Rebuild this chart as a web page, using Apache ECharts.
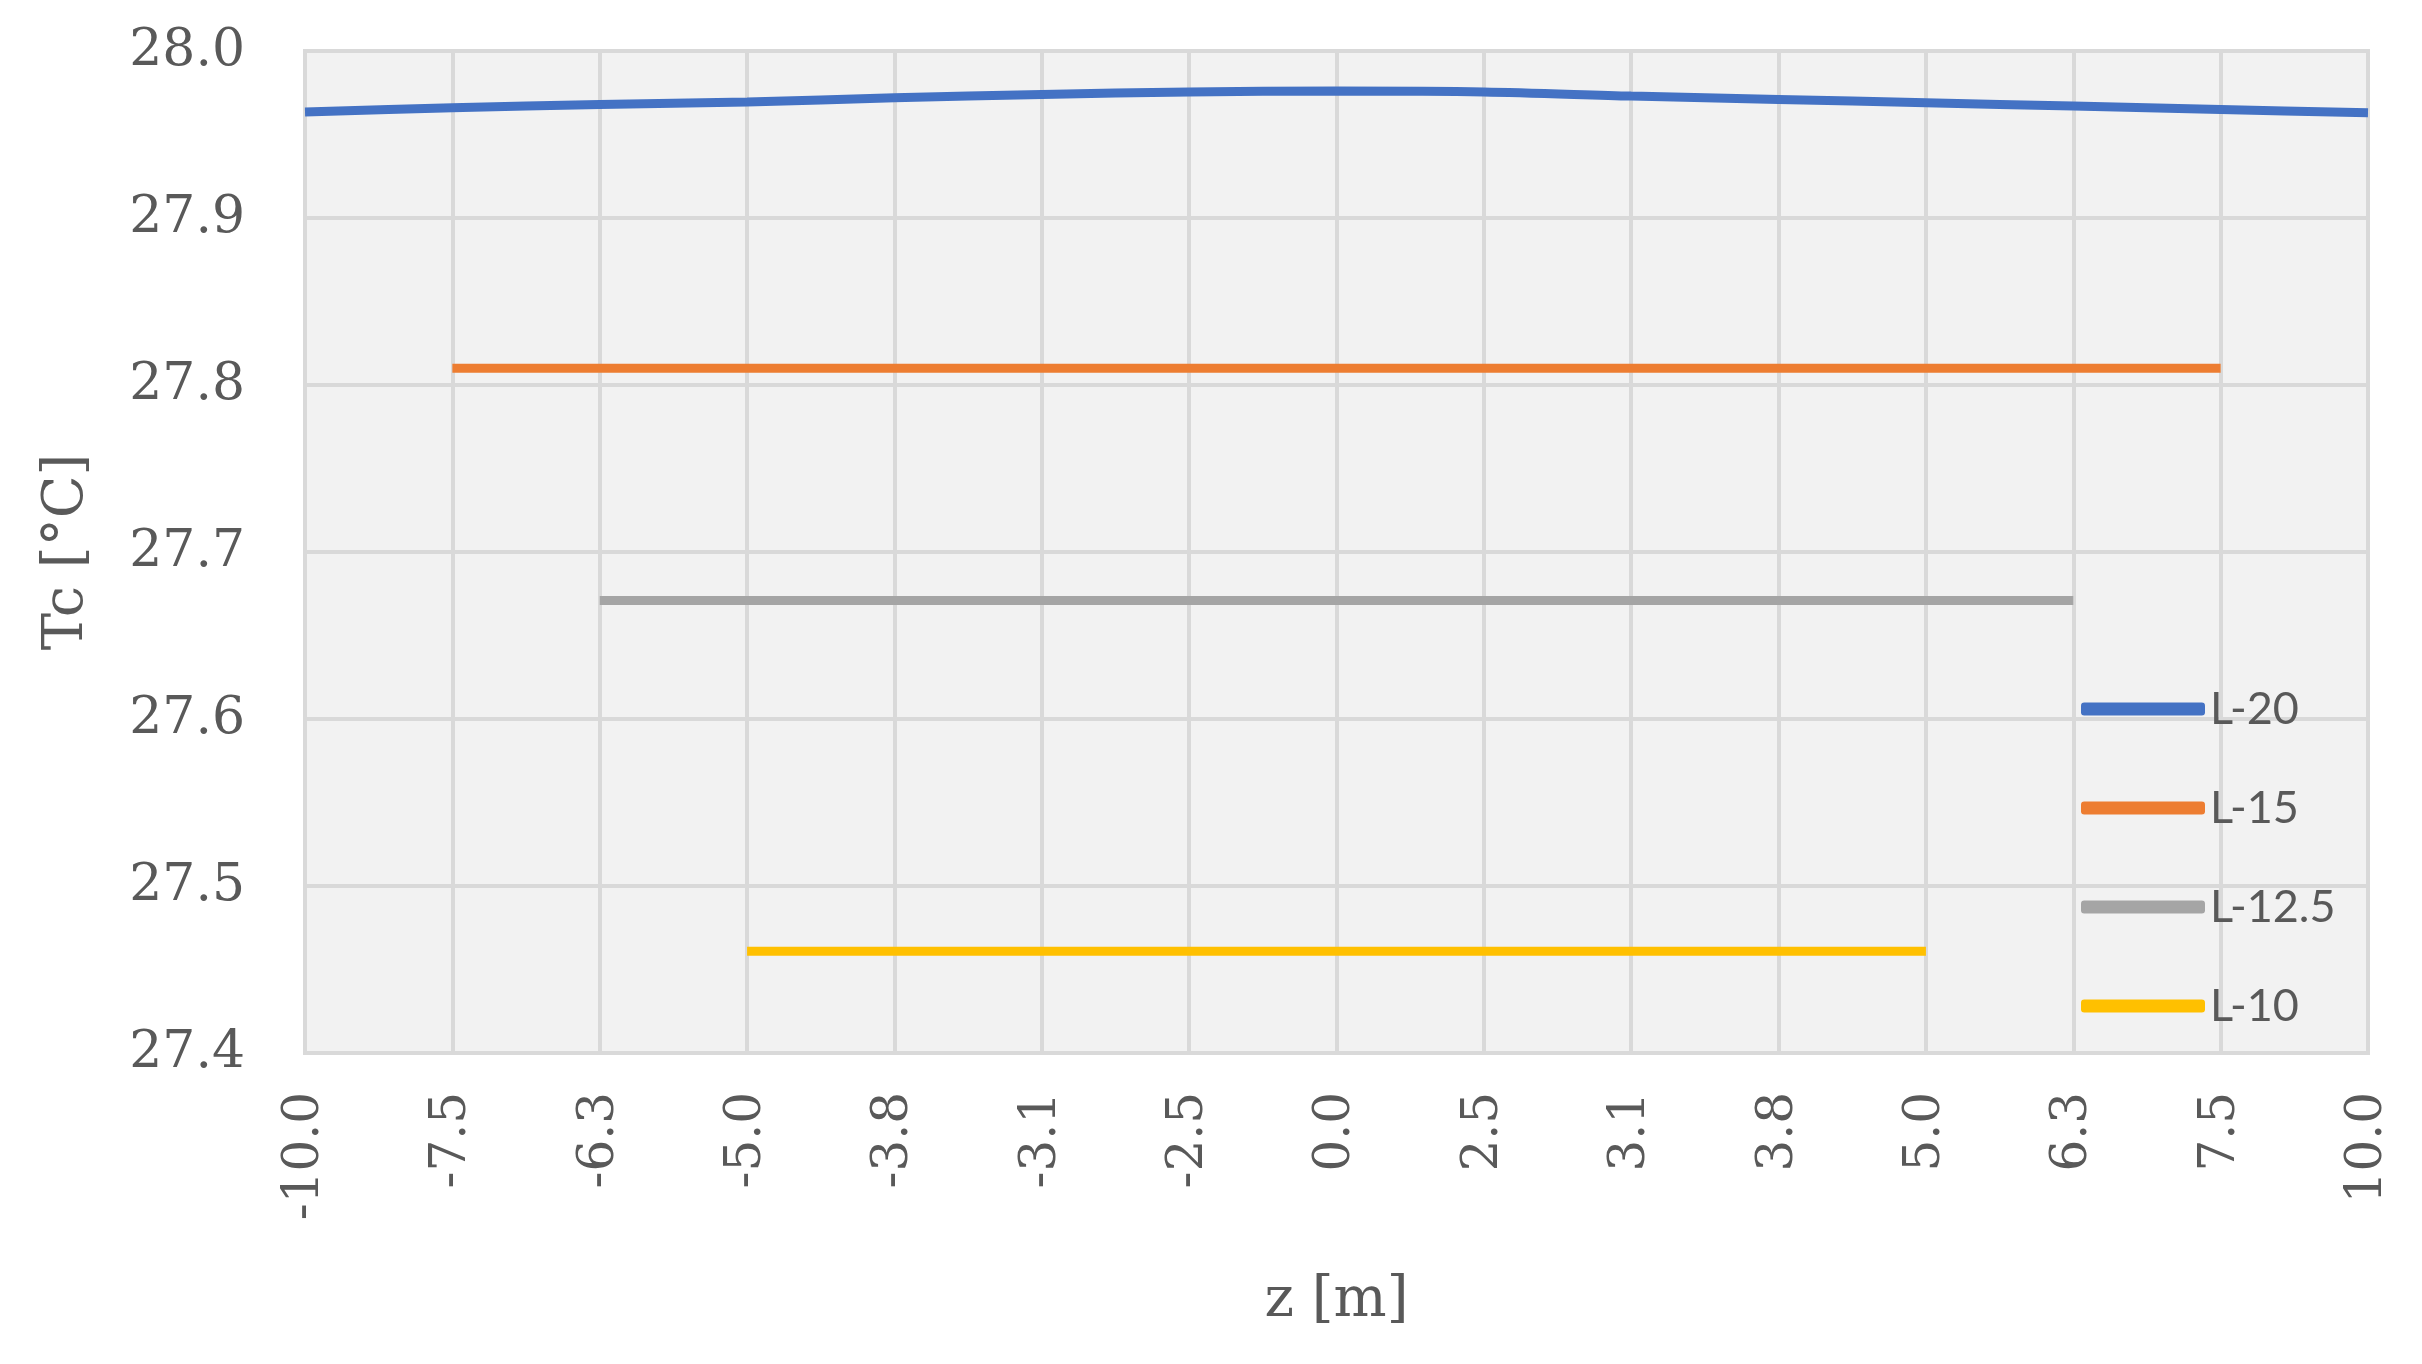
<!DOCTYPE html>
<html>
<head>
<meta charset="utf-8">
<title>Tc vs z</title>
<script src="https://cdn.jsdelivr.net/npm/echarts@6/dist/echarts.min.js"></script>
<style>
    html, body { margin: 0; padding: 0; background: #fff; }
    #echart { width: 2422px; height: 1364px; }
</style>
</head>
<body>
<div id="echart"></div>
<script>
// 横轴位置 z [m]
var zLabels = ['-10.0', '-7.5', '-6.3', '-5.0', '-3.8', '-3.1', '-2.5', '0.0',
               '2.5', '3.1', '3.8', '5.0', '6.3', '7.5', '10.0'];
// 各系列 Tc [°C]，没有的点用 null
var l20  = [27.9635, 27.966, 27.968, 27.9695, 27.972, 27.974, 27.9755, 27.976,
            27.9755, 27.973, 27.971, 27.969, 27.967, 27.965, 27.963];
var l15  = [null, 27.81, 27.81, 27.81, 27.81, 27.81, 27.81, 27.81,
            27.81, 27.81, 27.81, 27.81, 27.81, 27.81, null];
var l125 = [null, null, 27.671, 27.671, 27.671, 27.671, 27.671, 27.671,
            27.671, 27.671, 27.671, 27.671, 27.671, null, null];
var l10  = [null, null, null, 27.461, 27.461, 27.461, 27.461, 27.461,
            27.461, 27.461, 27.461, 27.461, null, null, null];
var seriesNames = ['L-20', 'L-15', 'L-12.5', 'L-10'];
var colors = ['#4472C4', '#ED7D31', '#A5A5A5', '#FFC000'];

var myChart = echarts.init(document.getElementById('echart'));

function line(name, data, color, smooth) {
    return {
        name: name,
        type: 'line',
        data: data,
        color: color,
        smooth: smooth,
        showSymbol: false,
        symbol: 'none',
        lineStyle: { width: 9, color: color, cap: 'butt' },
        emphasis: { disabled: true }
    };
}

var serif = '"DejaVu Serif", "Liberation Serif", serif';

var option = {
    backgroundColor: '#ffffff',
    animation: false,
    grid: {
        left: 305, right: 54, top: 51, bottom: 311,
        show: true,
        backgroundColor: '#F2F2F2',
        borderColor: '#D9D9D9',
        borderWidth: 4
    },
    legend: {
        data: seriesNames,
        orient: 'vertical',
        left: 2076,
        top: 678,
        icon: 'roundRect',
        itemWidth: 124,
        itemHeight: 13,
        itemGap: 47,
        textStyle: {
            fontFamily: 'Lato, "Open Sans", sans-serif',
            fontSize: 45,
            lineHeight: 52,
            color: '#595959'
        }
    },
    xAxis: {
        type: 'category',
        data: zLabels,
        boundaryGap: false,
        name: 'z [m]',
        nameLocation: 'middle',
        nameGap: 220,
        nameTextStyle: { fontFamily: serif, fontSize: 56, color: '#595959' },
        axisLine: { show: false },
        axisTick: { show: false },
        axisLabel: {
            interval: 0,
            rotate: 90,
            margin: 39,
            fontFamily: serif,
            fontSize: 50,
            color: '#595959'
        },
        splitLine: { show: true, interval: 0, lineStyle: { color: '#D9D9D9', width: 4 } }
    },
    yAxis: {
        type: 'value',
        min: 27.4,
        max: 28.0,
        interval: 0.1,
        name: 'Tc [°C]',
        nameLocation: 'middle',
        nameGap: 210,
        nameRotate: 90,
        nameTextStyle: { fontFamily: serif, fontSize: 56, color: '#595959' },
        axisLine: { show: false },
        axisTick: { show: false },
        axisLabel: {
            margin: 60,
            fontFamily: serif,
            fontSize: 52,
            color: '#595959',
            formatter: function (v) { return v.toFixed(1); }
        },
        splitLine: { show: true, lineStyle: { color: '#D9D9D9', width: 4 } }
    },
    series: [
        line(seriesNames[0], l20, colors[0], 0.3),
        line(seriesNames[1], l15, colors[1], false),
        line(seriesNames[2], l125, colors[2], false),
        line(seriesNames[3], l10, colors[3], false)
    ]
};

myChart.setOption(option);
</script>
</body>
</html>
